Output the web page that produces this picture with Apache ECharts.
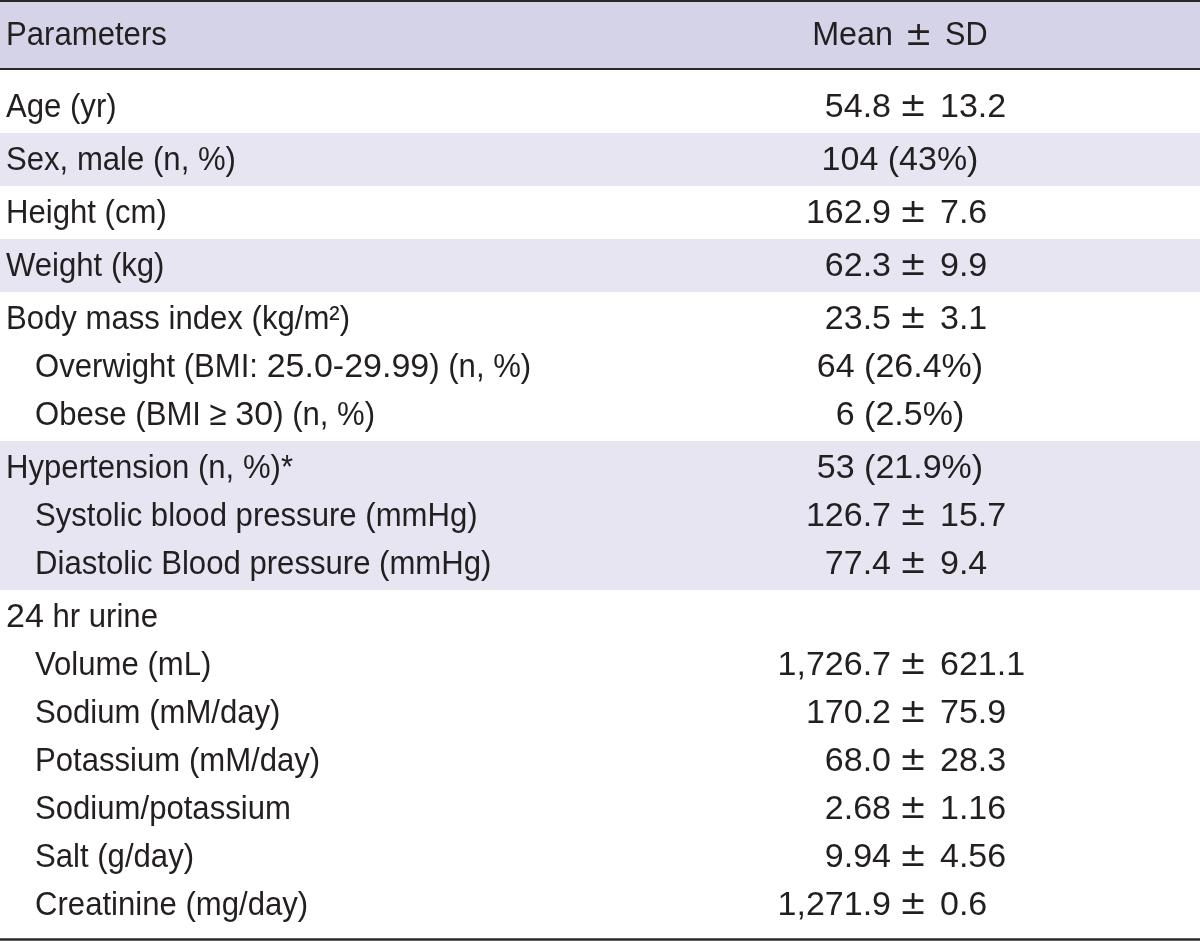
<!DOCTYPE html>
<html>
<head>
<meta charset="utf-8">
<script src="https://cdn.jsdelivr.net/npm/echarts@6/dist/echarts.min.js"></script>
<style>
html,body{margin:0;padding:0;background:#ffffff;}
#chart{width:1200px;height:941px;}
</style>
</head>
<body>
<div id="chart"></div>
<script>
// ---------- DATA ----------
const headerLabels = ['Parameters', 'Mean', '±', 'SD'];
const parameters = [
  'Age (yr)',
  'Sex, male (n, %)',
  'Height (cm)',
  'Weight (kg)',
  'Body mass index (kg/m²)',
  'Overwight (BMI: 25.0-29.99) (n, %)',
  'Obese (BMI ≥ 30) (n, %)',
  'Hypertension (n, %)*',
  'Systolic blood pressure (mmHg)',
  'Diastolic Blood pressure (mmHg)',
  '24 hr urine',
  'Volume (mL)',
  'Sodium (mM/day)',
  'Potassium (mM/day)',
  'Sodium/potassium',
  'Salt (g/day)',
  'Creatinine (mg/day)'
];
const subItem  = [0,0,0,0,0,1,1,0,1,1,0,1,1,1,1,1,1];
const rowGroup = [0,1,2,3,4,4,4,5,5,5,6,6,6,6,6,6,6];
const means = ['54.8','','162.9','62.3','23.5','','','','126.7','77.4','','1,726.7','170.2','68.0','2.68','9.94','1,271.9'];
const sds   = ['13.2','','7.6','9.9','3.1','','','','15.7','9.4','','621.1','75.9','28.3','1.16','4.56','0.6'];
const counts = ['','104 (43%)','','','','64 (26.4%)','6 (2.5%)','53 (21.9%)','','','','','','','','',''];

// ---------- LAYOUT / STYLE ----------
const W = 1200, H = 941;
const TEXT = '#231f20';
const HEADER_FILL = '#d4d3e7';
const SHADE_FILL = '#e6e5f1';
const FONT = '"Liberation Sans", Arial, sans-serif';
const PM_FONT = '"DejaVu Sans", sans-serif';
const FS = 34, SX = 0.915, PM_FS = 33, TEXT_DY = 1;
const HEADER_TOP = 2, HEADER_BOTTOM = 68, HEADER_TEXT_Y = 35;
const BODY_TOP = 80, ROW_H = 48, SINGLE_H = 53, GROUP_PAD = 2.5;
const TABLE_BOTTOM = 939.5;
const X_LEFT = 6, X_INDENT = 35, X_MEAN_END = 891, X_PM = 913, X_SD_START = 940, X_CENTER = 900;
const XH_MEAN_END = 893, XH_PM = 918.5, XH_SD_START = 945;

// compute group geometry & row centres
const nGroups = Math.max.apply(null, rowGroup) + 1;
const groupTops = [], groupBottoms = [], rowCenters = [];
let cursor = BODY_TOP;
for (let g = 0; g < nGroups; g++) {
  const idx = rowGroup.map((v, i) => v === g ? i : -1).filter(i => i >= 0);
  const n = idx.length;
  const h = n === 1 ? SINGLE_H : n * ROW_H + 2 * GROUP_PAD;
  groupTops.push(cursor);
  groupBottoms.push(g === nGroups - 1 ? TABLE_BOTTOM : cursor + h);
  idx.forEach((ri, k) => {
    rowCenters[ri] = n === 1 ? cursor + h / 2 : cursor + GROUP_PAD + ROW_H * (k + 0.5);
  });
  cursor += h;
}
const bandData = [[HEADER_TOP, HEADER_BOTTOM, 2]];
for (let g = 0; g < nGroups; g++) bandData.push([groupTops[g], groupBottoms[g], g % 2]);
const ruleData = [[1, 2], [69, 2], [TABLE_BOTTOM, 2.6]];

// text measurement for condensed-letter / full-width-digit rendering
const mctx = document.createElement('canvas').getContext('2d');
mctx.font = FS + 'px "Liberation Sans", Arial, sans-serif';

function txt(x, y, s, align, opts) {
  opts = opts || {};
  return {
    type: 'text',
    x: x, y: y + TEXT_DY,
    scaleX: opts.sx == null ? SX : opts.sx,
    style: {
      x: 0, y: 0, text: s, fill: TEXT,
      fontFamily: opts.pm ? PM_FONT : FONT, fontSize: opts.pm ? PM_FS : FS,
      align: align || 'left', verticalAlign: 'middle'
    }
  };
}
// left-aligned label: letters condensed, digit runs at full width
function label(x, y, s) {
  const parts = s.split(/(\d[\d.,\-]*\d|\d)/).filter(p => p.length);
  const kids = [];
  let off = 0;
  parts.forEach(p => {
    const isNum = /^\d/.test(p);
    const sc = isNum ? 1 : SX;
    kids.push(txt(x + off, y, p, 'left', {sx: sc}));
    off += mctx.measureText(p).width * sc;
  });
  return {type: 'group', children: kids};
}

const chart = echarts.init(document.getElementById('chart'), null, {renderer: 'canvas'});
chart.setOption({
  animation: false,
  backgroundColor: '#ffffff',
  grid: {left: 0, right: 0, top: 0, bottom: 0},
  xAxis: {type: 'value', min: 0, max: W, show: false},
  yAxis: {type: 'value', min: 0, max: H, inverse: true, show: false},
  series: [
    {
      type: 'custom', silent: true, z: 1,
      data: bandData,
      renderItem: function (params, api) {
        const p0 = api.coord([0, api.value(0)]);
        const p1 = api.coord([W, api.value(1)]);
        const k = api.value(2);
        return {
          type: 'rect',
          shape: {x: p0[0], y: p0[1], width: p1[0] - p0[0], height: p1[1] - p0[1]},
          style: {fill: k === 2 ? HEADER_FILL : (k === 1 ? SHADE_FILL : '#ffffff')}
        };
      }
    },
    {
      type: 'custom', silent: true, z: 3,
      data: ruleData,
      renderItem: function (params, api) {
        const p0 = api.coord([0, api.value(0)]);
        const p1 = api.coord([W, api.value(0)]);
        return {
          type: 'line',
          shape: {x1: p0[0], y1: p0[1], x2: p1[0], y2: p1[1]},
          style: {stroke: '#2b2829', lineWidth: api.value(1)}
        };
      }
    },
    {
      type: 'custom', silent: true, z: 4,
      data: [[0, HEADER_TEXT_Y]],
      renderItem: function (params, api) {
        const y = api.coord([0, api.value(1)])[1];
        const cx = function (x) { return api.coord([x, 0])[0]; };
        return {
          type: 'group',
          children: [
            label(cx(X_LEFT), y, headerLabels[0]),
            txt(cx(XH_MEAN_END), y, headerLabels[1], 'right', {sx: 0.95}),
            txt(cx(XH_PM), y, headerLabels[2], 'center', {pm: true, sx: 1}),
            txt(cx(XH_SD_START), y, headerLabels[3], 'left', {sx: 0.9})
          ]
        };
      }
    },
    {
      type: 'custom', silent: true, z: 4,
      data: parameters.map((p, i) => [i, rowCenters[i]]),
      renderItem: function (params, api) {
        const i = params.dataIndex;
        const y = api.coord([0, api.value(1)])[1];
        const cx = function (x) { return api.coord([x, 0])[0]; };
        const children = [label(cx(subItem[i] ? X_INDENT : X_LEFT), y, parameters[i])];
        if (means[i]) {
          children.push(txt(cx(X_MEAN_END), y, means[i], 'right', {sx: 1}));
          children.push(txt(cx(X_PM), y, '±', 'center', {pm: true, sx: 1}));
          children.push(txt(cx(X_SD_START), y, sds[i], 'left', {sx: 1}));
        } else if (counts[i]) {
          children.push(txt(cx(X_CENTER), y, counts[i], 'center', {sx: 1}));
        }
        return {type: 'group', children: children};
      }
    }
  ]
});
</script>
</body>
</html>
